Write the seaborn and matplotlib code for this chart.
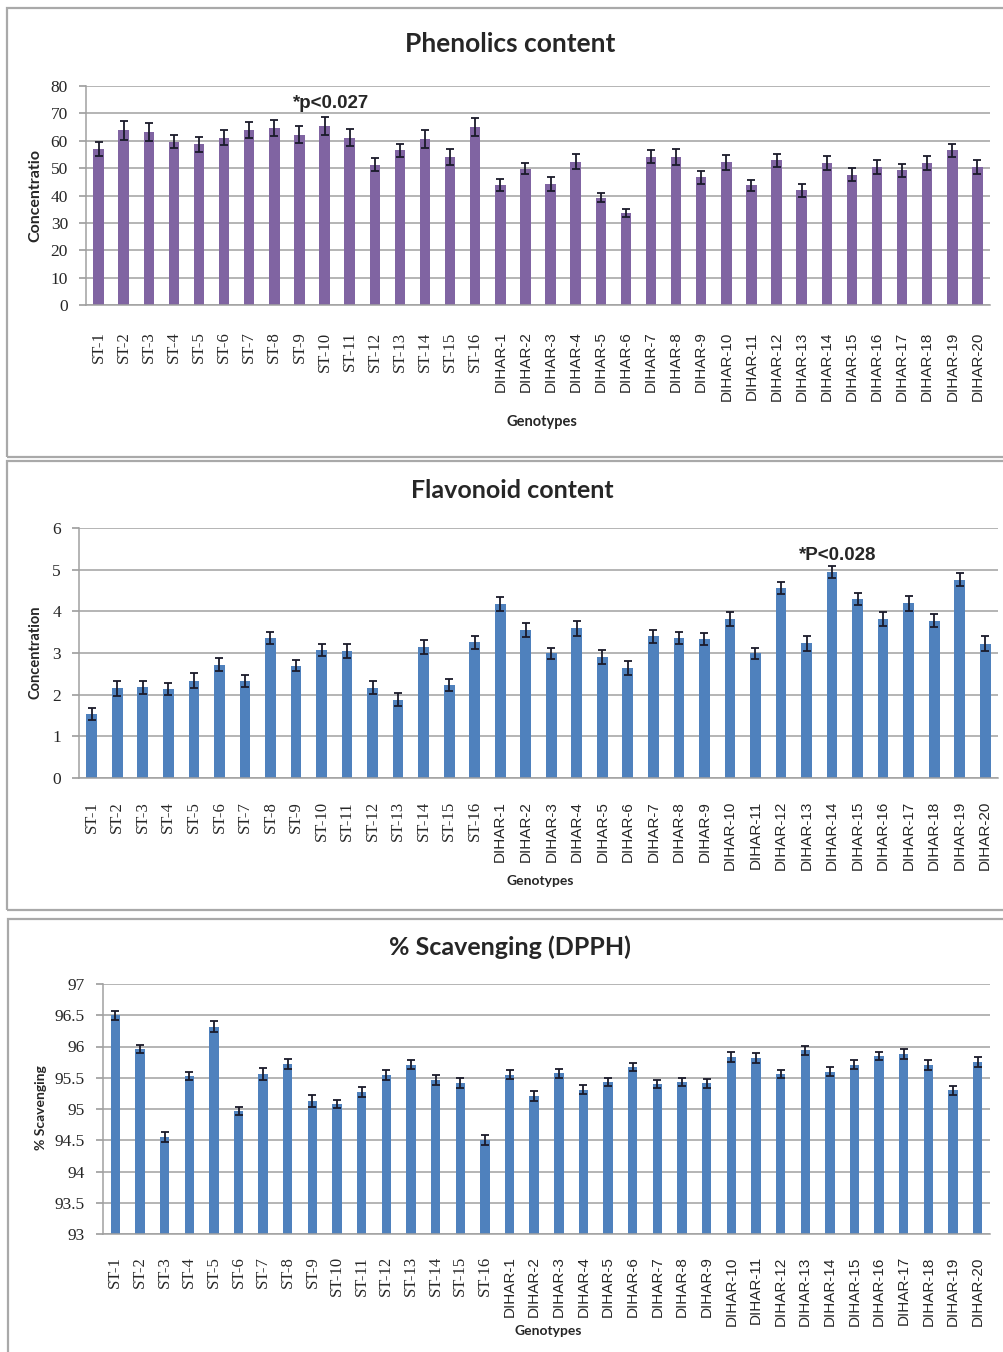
import matplotlib
matplotlib.use("Agg")
import matplotlib.pyplot as plt
import seaborn as sns
import numpy as np
from matplotlib.patches import Rectangle

# ---------------- data ----------------
genotypes = [f"ST-{i}" for i in range(1, 17)] + [f"DIHAR-{i}" for i in range(1, 21)]

phenolics = [57.0, 63.8, 63.2, 59.7, 58.7, 61.1, 63.8, 64.8, 62.2, 65.5, 61.1, 51.3,
             56.5, 60.6, 54.1, 65.1,
             43.7, 49.8, 44.2, 52.4, 39.2, 33.7, 54.1, 54.1, 46.7, 52.1, 43.7, 52.9,
             41.9, 51.9, 47.6, 50.4, 49.2, 51.9, 56.5, 50.4]
phenolics_err = [2.6, 3.4, 3.3, 2.5, 2.7, 2.7, 2.9, 2.9, 3.2, 3.3, 3.2, 2.3,
                 2.3, 3.3, 2.8, 3.3,
                 2.2, 2.1, 2.5, 2.9, 1.7, 1.4, 2.4, 2.8, 2.4, 2.7, 2.1, 2.4,
                 2.3, 2.7, 2.3, 2.5, 2.4, 2.7, 2.4, 2.5]

flavonoid = [1.54, 2.15, 2.18, 2.14, 2.34, 2.72, 2.33, 3.36, 2.70, 3.07, 3.05, 2.17,
             1.88, 3.14, 2.23, 3.26,
             4.18, 3.55, 2.99, 3.59, 2.91, 2.65, 3.40, 3.36, 3.34, 3.82, 2.99, 4.56,
             3.24, 4.95, 4.30, 3.81, 4.19, 3.78, 4.76, 3.22]
flavonoid_err = [0.14, 0.18, 0.16, 0.14, 0.18, 0.15, 0.14, 0.14, 0.14, 0.15, 0.17, 0.16,
                 0.16, 0.17, 0.15, 0.16,
                 0.17, 0.17, 0.14, 0.17, 0.17, 0.17, 0.15, 0.14, 0.14, 0.16, 0.13, 0.15,
                 0.18, 0.15, 0.15, 0.17, 0.19, 0.15, 0.16, 0.18]

dpph = [96.50, 95.96, 94.55, 95.53, 96.32, 94.97, 95.56, 95.72, 95.13, 95.08, 95.27, 95.54,
        95.71, 95.46, 95.41, 94.51,
        95.55, 95.21, 95.57, 95.31, 95.43, 95.67, 95.40, 95.43, 95.41, 95.84, 95.82, 95.56,
        95.94, 95.60, 95.71, 95.85, 95.88, 95.70, 95.30, 95.76]
dpph_err = [0.07, 0.07, 0.08, 0.06, 0.09, 0.07, 0.09, 0.08, 0.09, 0.06, 0.08, 0.08,
            0.07, 0.08, 0.08, 0.08,
            0.07, 0.08, 0.07, 0.07, 0.07, 0.07, 0.07, 0.06, 0.07, 0.08, 0.08, 0.07,
            0.07, 0.07, 0.07, 0.07, 0.08, 0.08, 0.07, 0.08]

# ---------------- style ----------------
sns.set_theme(style="white")
plt.rcParams["font.family"] = ["Lato", "DejaVu Sans"]

W, H = 1004, 1352
fig = plt.figure(figsize=(W / 100, H / 100), dpi=100)
fig.patch.set_facecolor("white")

PURPLE = "#8064A2"
BLUE = "#4F81BD"
GRID = "#A0A0A0"
BORDER = "#A9A9A9"


def px_axes(left, right, top, bottom):
    return fig.add_axes([left / W, 1 - bottom / H, (right - left) / W, (bottom - top) / H])


def border(x0, y0, x1, y1):
    r = Rectangle((x0 / W, 1 - y1 / H), (x1 - x0) / W, (y1 - y0) / H,
                  transform=fig.transFigure, fill=False, edgecolor=BORDER, lw=1.6)
    fig.patches.append(r)


def panel(ax, vals, errs, color, ylim, yticks, yticklabels, width, label_pad):
    sns.barplot(x=genotypes, y=vals, color=color, width=width, ax=ax,
                saturation=1, errorbar=None, linewidth=0)
    ax.errorbar(x=np.arange(len(genotypes)), y=vals, yerr=errs, fmt="none",
                ecolor="#1a1a2a", elinewidth=1.3, capsize=3.2, capthick=1.3)
    ax.set_xlim(-0.5, len(genotypes) - 0.5)
    ax.set_ylim(*ylim)
    ax.set_yticks(yticks)
    ax.set_yticklabels(yticklabels, fontfamily="Liberation Serif", fontsize=12.5)
    ax.yaxis.grid(True, color=GRID, lw=1.1)
    ax.set_axisbelow(True)
    for s in ["top", "right"]:
        ax.spines[s].set_visible(False)
    ax.spines["left"].set_color(GRID)
    ax.spines["bottom"].set_color(GRID)
    ax.spines["left"].set_linewidth(1.1)
    ax.spines["bottom"].set_linewidth(1.1)
    ax.tick_params(axis="y", left=True, length=5, color=GRID, pad=8)
    ax.tick_params(axis="x", bottom=False, pad=label_pad)
    ax.set_xticks(np.arange(len(genotypes)))
    ax.set_xticklabels(genotypes, rotation=90, va="top", ha="center")
    for lab in ax.get_xticklabels():
        if lab.get_text().startswith("ST"):
            lab.set_fontfamily("Liberation Serif")
            lab.set_fontsize(12)
        else:
            lab.set_fontfamily("Liberation Sans")
            lab.set_fontsize(11)
    ax.set_xlabel("")
    ax.set_ylabel("")
    ax.set_facecolor("white")


# panel borders
border(7, 8, 1010, 457)
border(7, 461, 1010, 910)
border(8, 919, 1010, 1360)

# ---- Panel 1: Phenolics ----
ax1 = px_axes(86, 990, 86, 305)
panel(ax1, phenolics, phenolics_err, PURPLE, (0, 80), range(0, 81, 10),
      [str(v) for v in range(0, 81, 10)], 0.42, 13)
fig.text(510 / W, 1 - 44 / H, "Phenolics content", ha="center", va="center",
         fontsize=19, fontweight="bold")
fig.text(542 / W, 1 - 422 / H, "Genotypes", ha="center", va="center",
         fontsize=10.5, fontweight="bold")
fig.text(35 / W, 1 - 196 / H, "Concentratio", ha="center", va="center",
         rotation=90, fontsize=11.5, fontweight="bold")
fig.text(331 / W, 1 - 104 / H, "*p<0.027", ha="center", va="center",
         fontsize=13.5, fontweight="bold", fontfamily="Liberation Sans")

# ---- Panel 2: Flavonoid ----
ax2 = px_axes(79, 998, 528, 778)
panel(ax2, flavonoid, flavonoid_err, BLUE, (0, 6), range(0, 7),
      [str(v) for v in range(0, 7)], 0.42, 10.5)
fig.text(512 / W, 1 - 491 / H, "Flavonoid content", ha="center", va="center",
         fontsize=18, fontweight="bold")
fig.text(540 / W, 1 - 881 / H, "Genotypes", ha="center", va="center",
         fontsize=10, fontweight="bold")
fig.text(36 / W, 1 - 652 / H, "Concentration", ha="center", va="center",
         rotation=90, fontsize=10.5, fontweight="bold")
fig.text(838 / W, 1 - 556 / H, "*P<0.028", ha="center", va="center",
         fontsize=13.5, fontweight="bold", fontfamily="Liberation Sans")

# ---- Panel 3: DPPH ----
ax3 = px_axes(103, 990, 984, 1234)
dticks = [93, 93.5, 94, 94.5, 95, 95.5, 96, 96.5, 97]
panel(ax3, dpph, dpph_err, BLUE, (93, 97), dticks,
      ["93", "93.5", "94", "94.5", "95", "95.5", "96", "96.5", "97"], 0.38, 10)
fig.text(510 / W, 1 - 947 / H, "% Scavenging (DPPH)", ha="center", va="center",
         fontsize=18, fontweight="bold")
fig.text(548 / W, 1 - 1331 / H, "Genotypes", ha="center", va="center",
         fontsize=10, fontweight="bold")
fig.text(41 / W, 1 - 1108 / H, "% Scavenging", ha="center", va="center",
         rotation=90, fontsize=10, fontweight="bold")

fig.savefig("out.png", dpi=100, facecolor="white")
